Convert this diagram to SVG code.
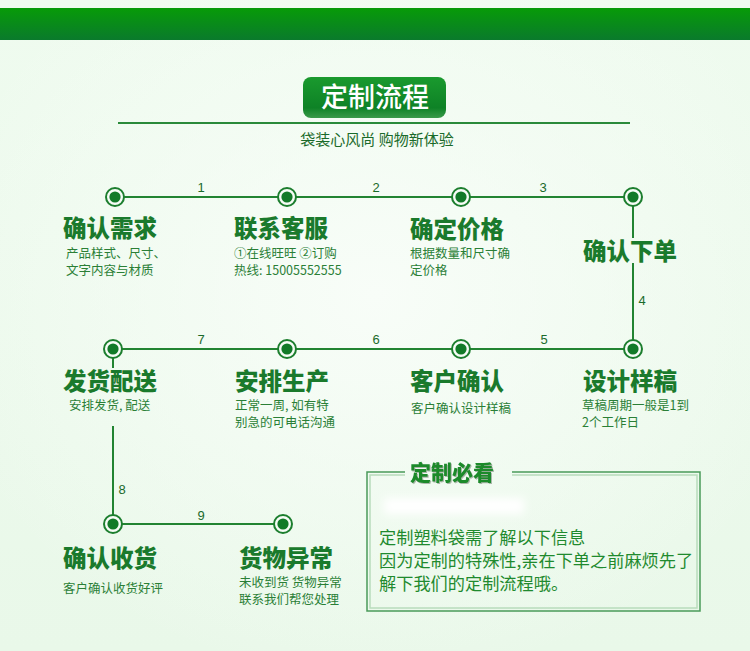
<svg xmlns="http://www.w3.org/2000/svg" width="750" height="651" viewBox="0 0 750 651">
<defs>
<linearGradient id="bg" x1="0" y1="0" x2="0" y2="1"><stop offset="0" stop-color="#effbef"/><stop offset="1" stop-color="#e9f8e9"/></linearGradient>
<radialGradient id="glow" cx="0.5" cy="0.45" r="0.6"><stop offset="0" stop-color="#f8fdf8"/><stop offset="1" stop-color="#f8fdf8" stop-opacity="0"/></radialGradient>
<linearGradient id="bar" x1="0" y1="0" x2="0" y2="1"><stop offset="0" stop-color="#079b08"/><stop offset="1" stop-color="#0a7a2c"/></linearGradient>
<linearGradient id="tbox" x1="0" y1="0" x2="0" y2="1"><stop offset="0" stop-color="#1a9a2e"/><stop offset="0.75" stop-color="#0e8226"/><stop offset="1" stop-color="#3a9a4a"/></linearGradient>
<filter id="blur" x="-20%" y="-50%" width="140%" height="200%"><feGaussianBlur stdDeviation="4"/></filter>
<filter id="sh" x="-10%" y="-20%" width="130%" height="150%"><feDropShadow dx="1" dy="1" stdDeviation="0.6" flood-color="#7a8a7a" flood-opacity="0.6"/></filter>
<g id="dot"><circle r="9" fill="#f6fcf6" stroke="#1c7e2e" stroke-width="2"/><circle r="5.6" fill="#127a28"/></g>
</defs>
<style>
.t{font-family:"Noto Sans CJK SC","Noto Sans",sans-serif;font-weight:900;font-size:23.5px;fill:#1a7a2c;}
.s{font-family:"Noto Sans CJK SC","Noto Sans",sans-serif;font-size:12.5px;fill:#2a7f36;}
.n{font-family:"Liberation Sans","DejaVu Sans",sans-serif;font-size:13px;fill:#1a6a2a;}
.b{font-family:"Noto Sans CJK SC","Noto Sans",sans-serif;font-size:17.2px;fill:#1f8a2e;}
.ln{stroke:#228432;stroke-width:2;fill:none;}
</style>
<rect width="750" height="651" fill="url(#bg)"/>
<rect x="0" y="0" width="750" height="651" fill="url(#glow)"/>
<rect x="0" y="8" width="750" height="32" fill="url(#bar)"/>
<g id="header">
<rect x="303" y="77" width="143" height="41" rx="8" fill="url(#tbox)"/>
<text x="375" y="107" text-anchor="middle" font-family="Noto Sans CJK SC,sans-serif" font-size="27" font-weight="500" fill="#ffffff">定制流程</text>
<line x1="118" y1="123" x2="630" y2="123" stroke="#2a8a3a" stroke-width="2"/>
<text x="377" y="145" text-anchor="middle" font-family="Noto Sans CJK SC,sans-serif" font-size="15" fill="#1a6a2a">袋装心风尚 购物新体验</text>
</g>
<g id="connectors">
<path class="ln" d="M115 197H633V238M633 263V349H113V368M113 426V524H283"/>
<text class="n" x="201" y="192" text-anchor="middle">1</text>
<text class="n" x="376" y="192" text-anchor="middle">2</text>
<text class="n" x="543" y="192" text-anchor="middle">3</text>
<text class="n" x="642" y="305" text-anchor="middle">4</text>
<text class="n" x="544" y="344" text-anchor="middle">5</text>
<text class="n" x="376" y="344" text-anchor="middle">6</text>
<text class="n" x="201" y="344" text-anchor="middle">7</text>
<text class="n" x="122" y="494" text-anchor="middle">8</text>
<text class="n" x="201" y="520" text-anchor="middle">9</text>
</g>
<g id="n1"><use href="#dot" x="115" y="197"/><text class="t" x="63" y="237">确认需求</text><text class="s" x="66" y="258">产品样式、尺寸、</text><text class="s" x="66" y="275">文字内容与材质</text></g>
<g id="n2"><use href="#dot" x="287" y="197"/><text class="t" x="234" y="237">联系客服</text><text class="s" x="234" y="258">①在线旺旺 ②订购</text><text class="s" x="234" y="275">热线: 15005552555</text></g>
<g id="n3"><use href="#dot" x="461" y="197"/><text class="t" x="410" y="238">确定价格</text><text class="s" x="410" y="258">根据数量和尺寸确</text><text class="s" x="410" y="275">定价格</text></g>
<g id="n4"><use href="#dot" x="633" y="197"/><text class="t" x="583" y="260">确认下单</text></g>
<g id="n5"><use href="#dot" x="633" y="349"/><text class="t" x="583" y="390">设计样稿</text><text class="s" x="582" y="410">草稿周期一般是1到</text><text class="s" x="582" y="427">2个工作日</text></g>
<g id="n6"><use href="#dot" x="461" y="349"/><text class="t" x="410" y="390">客户确认</text><text class="s" x="411" y="413">客户确认设计样稿</text></g>
<g id="n7"><use href="#dot" x="287" y="349"/><text class="t" x="235" y="390">安排生产</text><text class="s" x="235" y="410">正常一周, 如有特</text><text class="s" x="235" y="427">别急的可电话沟通</text></g>
<g id="n8"><use href="#dot" x="113" y="349"/><text class="t" x="63" y="390">发货配送</text><text class="s" x="69" y="410">安排发货, 配送</text></g>
<g id="n9"><use href="#dot" x="113" y="524"/><text class="t" x="63" y="567">确认收货</text><text class="s" x="63" y="593">客户确认收货好评</text></g>
<g id="n10"><use href="#dot" x="283" y="524"/><text class="t" x="239" y="567">货物异常</text><text class="s" x="239" y="587">未收到货 货物异常</text><text class="s" x="239" y="604">联系我们帮您处理</text></g>
<g id="notice">
<path d="M405 472H367V611H700V472H512" fill="none" stroke="#4a9a5a" stroke-width="1.5"/>
<path d="M405 475H370V608H697V475H512" fill="none" stroke="#b8dcbc" stroke-width="1.5"/>
<rect x="384" y="498" width="140" height="16" fill="#ffffff" filter="url(#blur)"/>
<text x="410" y="480" font-family="Noto Sans CJK SC,sans-serif" font-size="21" font-weight="900" fill="#1a8a2c" filter="url(#sh)">定制必看</text>
<text class="b" x="379" y="544">定制塑料袋需了解以下信息</text>
<text class="b" x="379" y="567">因为定制的特殊性,亲在下单之前麻烦先了</text>
<text class="b" x="379" y="590">解下我们的定制流程哦。</text>
</g>
</svg>
